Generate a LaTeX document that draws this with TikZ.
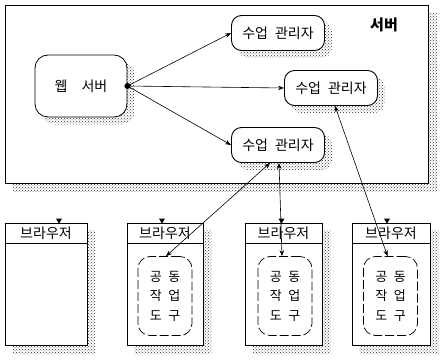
\documentclass[tikz,border=0pt]{standalone}
\usepackage{fontspec}
\setmainfont{Noto Sans CJK KR}
\usetikzlibrary{arrows.meta,calc,patterns}
\pgfdeclarelayer{bglayer}
\pgfdeclarelayer{shadelayer}
\pgfsetlayers{bglayer,shadelayer,main}
\begin{document}
\begin{tikzpicture}[x=1pt,y=-1pt,
  shadowc/.style={pattern=crosshatch dots,pattern color=black!80},
  mgr/.style={draw,fill=white,rounded corners=10pt,line width=0.9pt,minimum width=93pt,minimum height=35pt,inner sep=0pt,font=\fontsize{14}{16}\selectfont},
  webbox/.style={draw,fill=white,rounded corners=13pt,line width=0.8pt,minimum width=92pt,minimum height=62pt,inner sep=0pt,font=\fontsize{14}{16}\selectfont},
  browser/.style={draw,fill=white,line width=0.8pt,minimum height=122pt,inner sep=0pt},
  btitle/.style={font=\fontsize{14}{16}\selectfont,inner sep=0pt},
  toolbox/.style={draw,rounded corners=12pt,dash pattern=on 9pt off 3pt,line width=0.7pt,minimum width=54pt,minimum height=79pt,inner sep=0pt,align=center,font=\fontsize{13}{19.5}\selectfont},
  arr/.style={-{Stealth[length=6pt,width=4.5pt]},line width=0.6pt},
  biarr/.style={{Stealth[length=6pt,width=4.5pt]}-{Stealth[length=6pt,width=4.5pt]},line width=0.6pt},
  marker/.style={fill=black}
]
\useasboundingbox (0,0) rectangle (441,363);

% server frame
\node[draw,line width=0.9pt,minimum width=423pt,minimum height=178pt,anchor=north west,inner sep=0pt] (srv) at (5,5) {};
\begin{pgfonlayer}{bglayer}
  \path[shadowc] ($(srv.north west)+(8,8)$) rectangle ($(srv.south east)+(8,8)$);
  \fill[white] (srv.north west) rectangle (srv.south east);
\end{pgfonlayer}
\node[font=\fontsize{15}{17}\selectfont\bfseries,inner sep=0pt] (srvlabel) at (384,25) {서버};

% web server and class managers
\node[webbox] (web) at (81,86) {웹\hspace{1em}서버};
\node[mgr] (m1) at (278,33) {수업\hspace{0.5em}관리자};
\node[mgr] (m2) at (331,88) {수업\hspace{0.5em}관리자};
\node[mgr] (m3) at (278,145) {수업\hspace{0.5em}관리자};

\begin{pgfonlayer}{shadelayer}
  \path[shadowc,rounded corners=13pt] ($(web.north west)+(7,7)$) rectangle ($(web.south east)+(7,7)$);
  \foreach \m in {m1,m2,m3}{
    \path[shadowc,rounded corners=10pt] ($(\m.north west)+(7,7)$) rectangle ($(\m.south east)+(7,7)$);
  }
\end{pgfonlayer}

\coordinate (hub) at (web.east);
\draw[arr] (hub) -- (m1.west);
\draw[arr] (hub) -- (m2.west);
\draw[arr] (hub) -- (m3.west);
\fill (hub) circle (3pt);

% browsers
\node[browser,minimum width=82pt] (b1) at (46,284) {};
\node[browser,minimum width=76pt] (b2) at (165,284) {};
\node[browser,minimum width=77pt] (b3) at (283.5,284) {};
\node[browser,minimum width=78pt] (b4) at (391,284) {};

\foreach \b in {b1,b2,b3,b4}{
  \draw[line width=1.3pt] ($(\b.north west)+(0,21)$) -- ($(\b.north east)+(0,21)$);
  \node[btitle] (\b t) at ($(\b.north)+(0,11)$) {브라우저};
  \begin{pgfonlayer}{shadelayer}
    \path[shadowc] ($(\b.north west)+(8,8)$) rectangle ($(\b.south east)+(8,8)$);
  \end{pgfonlayer}
}

% small markers on browser tops
\fill[marker] ($(b1.north)+(10,-4)$) -- ($(b1.north)+(16,-4)$) -- ($(b1.north)+(13,1)$) -- cycle;
\fill[marker] ($(b2.north)+(-6,-4)$) -- ($(b2.north)+(0,-4)$) -- ($(b2.north)+(-3,1)$) -- cycle;
\fill[marker] ($(b3.north)+(-5,-4)$) -- ($(b3.north)+(1,-4)$) -- ($(b3.north)+(-2,1)$) -- cycle;
\fill[marker] ($(b4.north)+(-7,-4)$) -- ($(b4.north)+(-1,-4)$) -- ($(b4.north)+(-4,1)$) -- cycle;

% collaboration tools
\node[toolbox] (tool2) at (165,296) {공\hspace{0.5em}동\\작\hspace{0.5em}업\\도\hspace{0.5em}구};
\node[toolbox] (tool3) at (285,296) {공\hspace{0.5em}동\\작\hspace{0.5em}업\\도\hspace{0.5em}구};
\node[toolbox] (tool4) at (390.5,296) {공\hspace{0.5em}동\\작\hspace{0.5em}업\\도\hspace{0.5em}구};

% manager-tool connections
\draw[biarr] ($(m3.south)+(-8,0)$) -- ($(tool2.north)+(1,0)$);
\draw[biarr] ($(m3.south)+(1,0)$) -- ($(tool3.north)+(-3,0)$);
\draw[biarr] ($(m2.south)+(4,0)$) -- ($(tool4.north)+(-3,0)$);
\end{tikzpicture}
\end{document}
